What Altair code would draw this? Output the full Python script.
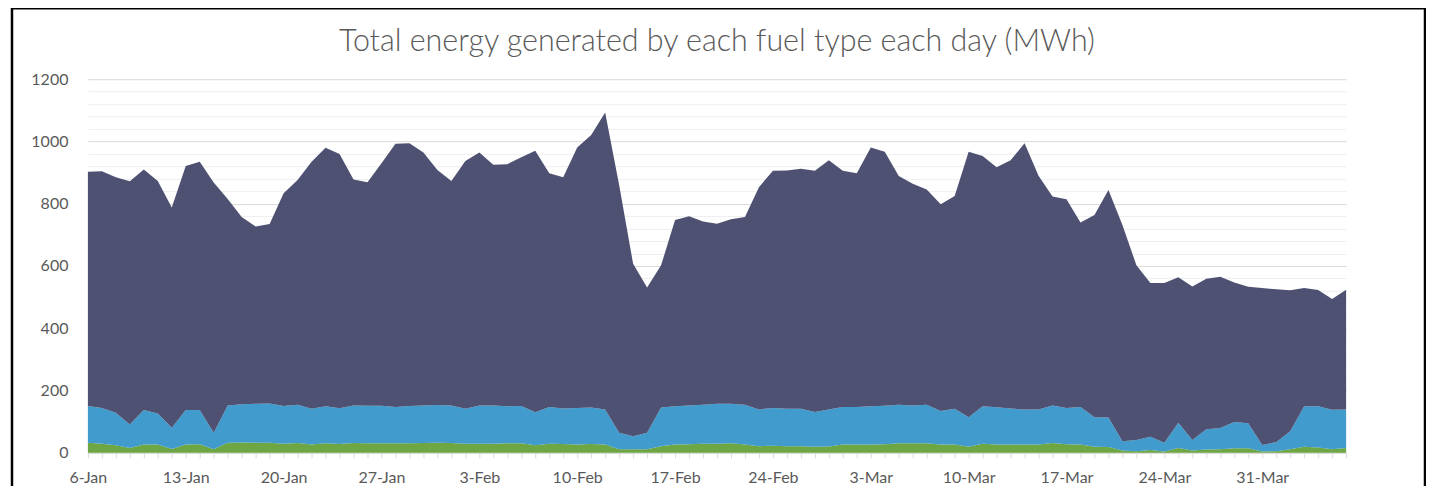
import altair as alt
import pandas as pd

# Daily dates: 6-Jan to 6-Apr (91 days)
start_date = "2019-01-06"
n_days = 91

chart_title = "Total energy generated by each fuel type each day (MWh)"

# Values (MWh), bottom to top of the stack
solar = [32, 29, 24, 15, 26, 26, 12, 26, 27, 11,
         32, 33, 32, 32, 29, 31, 26, 30, 28, 31,
         30, 30, 30, 30, 31, 32, 31, 29, 29, 29,
         30, 30, 24, 29, 28, 26, 28, 26, 11, 11,
         11, 21, 26, 27, 29, 29, 30, 26, 21, 22,
         21, 21, 19, 20, 26, 26, 26, 27, 30, 30,
         30, 26, 26, 19, 29, 26, 26, 26, 26, 31,
         27, 26, 19, 18, 7, 5, 9, 4, 15, 7,
         10, 11, 14, 14, 4, 5, 11, 19, 17, 11, 15]

wind = [118, 115, 104, 76, 111, 100, 68, 111, 110, 53,
        120, 123, 125, 126, 121, 123, 115, 119, 115, 121,
        121, 121, 117, 120, 121, 121, 121, 112, 123, 123,
        119, 120, 106, 118, 114, 118, 117, 113, 53, 42,
        53, 124, 123, 125, 125, 128, 127, 128, 118, 122,
        120, 120, 112, 119, 121, 121, 123, 124, 124, 122,
        124, 108, 115, 95, 120, 120, 116, 113, 113, 121,
        117, 121, 95, 95, 30, 36, 42, 28, 81, 34,
        65, 68, 85, 81, 21, 29, 58, 130, 132, 127, 124]

gas = [753, 760, 757, 781, 773, 747, 708, 784, 798, 804,
       663, 601, 570, 577, 684, 722, 794, 831, 817, 726,
       718, 779, 846, 844, 813, 755, 721, 796, 813, 773,
       778, 799, 840, 751, 743, 837, 876, 954, 796, 554,
       467, 457, 599, 608, 589, 579, 593, 603, 714, 762,
       766, 771, 775, 801, 759, 751, 832, 816, 735, 712,
       692, 664, 684, 853, 804, 771, 798, 855, 751, 671,
       670, 593, 650, 731, 695, 561, 494, 513, 468, 493,
       484, 486, 448, 438, 504, 491, 453, 380, 374, 356, 385]

series_names = ["Solar", "Wind", "Gas"]
series_colors = ["#639f36", "#3393c9", "#414466"]

dates = pd.date_range(start_date, periods=n_days, freq="D")
rows = []
for k, (name, vals) in enumerate(zip(series_names, [solar, wind, gas])):
    for d, v in zip(dates, vals):
        rows.append({"date": d.strftime("%Y-%m-%d"), "fuel": name, "mwh": v, "order": k})
df = pd.DataFrame(rows)

t0 = int(pd.Timestamp(start_date, tz="UTC").timestamp() * 1000)
day_ms = 86400000
tick_values = [t0 + i * day_ms for i in range(n_days)]
y_values = list(range(0, 1201, 40))

W, H = 1260, 374

area = alt.Chart(df).mark_area(opacity=0.93, line=False).encode(
    x=alt.X(
        "date:T",
        scale=alt.Scale(type="utc", domain=[tick_values[0], tick_values[-1]], nice=False),
        axis=alt.Axis(
            title=None,
            values=tick_values,
            labelExpr="(round((datum.value - %d) / %d) %% 7 == 0) ? utcFormat(datum.value, '%%-d-%%b') : ''" % (t0, day_ms),
            labelOverlap=False,
            labelFlush=False,
            grid=False,
            domainColor="#d9d9d9",
            tickColor="#d9d9d9",
            tickSize=5,
            labelPadding=12,
            labelFontSize=16,
            labelColor="#595959",
            labelFont="Lato",
        ),
    ),
    y=alt.Y(
        "mwh:Q",
        stack="zero",
        scale=alt.Scale(domain=[0, 1200], nice=False),
        axis=alt.Axis(
            title=None,
            values=y_values,
            labelExpr="datum.value % 200 == 0 ? format(datum.value, 'd') : ''",
            labelOverlap=False,
            domain=False,
            ticks=False,
            labelPadding=20,
            labelFontSize=16,
            labelColor="#595959",
            labelFont="Lato",
            gridColor={"condition": {"test": "datum.value % 200 == 0", "value": "#d9d9d9"}, "value": "#efefef"},
            gridWidth=1,
        ),
    ),
    color=alt.Color("fuel:N", scale=alt.Scale(domain=series_names, range=series_colors), legend=None),
    order=alt.Order("order:Q", sort="ascending"),
)

frame = alt.Chart(pd.DataFrame({"a": [0]})).mark_rect(
    fill=None, stroke="black", strokeWidth=2.5
).encode(
    x=alt.value(-76), x2=alt.value(1339), y=alt.value(-71), y2=alt.value(H + 60)
)

title = alt.Chart(pd.DataFrame({"t": [chart_title]})).mark_text(
    font="Lato", fontWeight=300, fontSize=30.5, color="#595959",
    align="center", baseline="alphabetic"
).encode(
    text="t:N", x=alt.value(W / 2), y=alt.value(-28)
)

chart = alt.layer(area, frame, title).properties(
    width=W,
    height=H,
    autosize=alt.AutoSizeParams(type="none"),
    padding={"left": 80, "top": 71, "right": 80, "bottom": 33},
).configure_view(stroke=None)

chart.save("out.html", embed_options={"renderer": "svg", "actions": False})
